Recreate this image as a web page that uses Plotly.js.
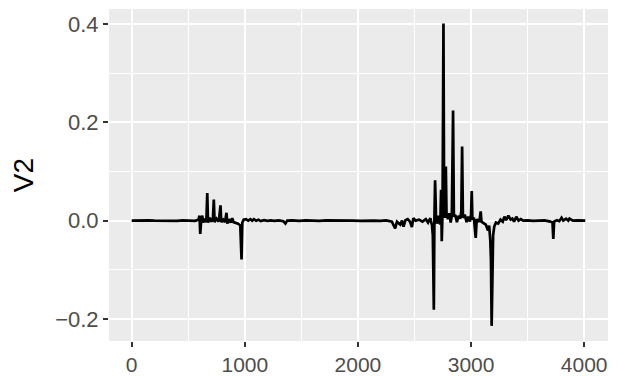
<!DOCTYPE html>
<html>
<head>
<meta charset="utf-8">
<script src="https://cdn.plot.ly/plotly-3.0.1.min.js"></script>
<style>html,body{margin:0;padding:0;background:#fff;}#chart{width:621px;height:376px;}</style>
</head>
<body>
<div id="chart"></div>
<script>
// Index (x) and V2 (y) values
const idx = [0,50,100,150,200,250,300,350,400,450,500,560,590,600,606,615,624,632,645,660,668,675,690,705,718,726,733,750,770,785,792,810,825,838,845,860,875,889,900,915,940,960,971,978,990,1010,1030,1050,1065,1080,1100,1120,1140,1170,1200,1230,1260,1300,1340,1359,1375,1420,1480,1540,1600,1660,1720,1780,1840,1900,1960,2020,2080,2140,2200,2250,2300,2329,2345,2374,2390,2403,2420,2440,2460,2477,2490,2510,2540,2570,2600,2620,2640,2655,2662,2671,2676,2682,2690,2700,2715,2728,2735,2741,2748,2756,2762,2770,2777,2783,2795,2808,2820,2830,2841,2848,2860,2875,2890,2905,2914,2921,2928,2945,2960,2975,2990,3000,3006,3012,3025,3041,3050,3065,3078,3085,3092,3110,3130,3150,3160,3170,3176,3182,3188,3195,3205,3220,3240,3260,3280,3295,3310,3330,3350,3365,3380,3400,3420,3440,3460,3500,3550,3600,3650,3700,3720,3727,3734,3760,3780,3800,3815,3840,3860,3870,3900,3950,4010];
const v2 = [0,0.0005,-0.0005,0.0005,0,-0.0005,0.0005,0,-0.0005,0.0005,0,-0.0005,0.002,0.010,-0.027,0.003,0.010,-0.004,0.004,-0.003,0.056,-0.004,0.006,-0.002,0.004,0.043,-0.003,0.004,-0.002,0.031,-0.003,0.002,-0.003,0.016,-0.006,0.003,-0.004,0.005,-0.003,-0.004,-0.006,-0.010,-0.079,-0.004,0.002,0.003,0,0.003,0,0.003,0,0.002,-0.001,0.001,-0.0005,0.0005,-0.0005,0.0005,-0.001,-0.006,0,0.0005,-0.0005,0.0005,0,-0.0005,0.0005,0,-0.0005,0.0005,0,-0.0005,0.0005,0,-0.0005,0.0005,-0.002,-0.016,-0.002,-0.008,0,-0.012,0.001,0.003,-0.002,-0.013,0.005,0,0.002,-0.002,0.003,-0.004,0.005,-0.010,-0.030,-0.181,0.004,0.082,0.010,-0.006,0.010,-0.008,0.063,-0.042,0.020,0.401,0.020,0.006,0.110,0.015,0.003,0.015,-0.004,0.010,0.224,0.008,0.012,-0.003,0.010,0.004,0.020,0.151,0.006,0.012,-0.003,0.008,-0.002,0.012,0.060,0.002,0.006,-0.035,0.003,-0.003,0.005,0.019,-0.002,-0.005,-0.008,-0.020,-0.010,-0.040,-0.080,-0.214,-0.060,-0.030,-0.012,-0.004,-0.006,0.002,-0.002,0.008,0.001,0.010,0.002,0.004,-0.002,0.008,0,0.003,0,0.0005,-0.0005,0,0.0005,-0.002,-0.004,-0.037,-0.002,0.001,-0.001,0.006,0,0.004,0,0.004,0,0.0005,0];
const xTicks = [0,1000,2000,3000,4000];
const yTicks = [-0.2,0.0,0.2,0.4];
const yTickText = ['\u22120.2','0.0','0.2','0.4'];

const trace = {
  x: idx, y: v2, type: 'scatter', mode: 'lines',
  line: {color: '#000000', width: 2.7},
  hoverinfo: 'skip'
};
const font = {family: '"Liberation Sans", Arial, sans-serif'};
const layout = {
  width: 621, height: 376,
  margin: {l: 109, r: 13, t: 9, b: 35},
  paper_bgcolor: '#FFFFFF', plot_bgcolor: '#EBEBEB',
  showlegend: false,
  font: {family: font.family, color: '#4D4D4D', size: 21},
  xaxis: {
    range: [-200.5, 4210.5], zeroline: false,
    tickvals: xTicks, ticktext: xTicks.map(String),
    showgrid: true, gridcolor: '#FFFFFF', gridwidth: 2,
    minor: {dtick: 500, tick0: 500, showgrid: true, gridcolor: '#FFFFFF', gridwidth: 1, ticks: ''},
    ticks: 'outside', ticklen: 5, tickwidth: 2, tickcolor: '#333333',
    tickfont: {family: font.family, size: 21, color: '#4D4D4D'},
    showline: false
  },
  yaxis: {
    range: [-0.2448, 0.4305], zeroline: false,
    tickvals: yTicks, ticktext: yTickText,
    showgrid: true, gridcolor: '#FFFFFF', gridwidth: 2,
    minor: {tickvals: [-0.1, 0.1, 0.3], showgrid: true, gridcolor: '#FFFFFF', gridwidth: 1, ticks: ''},
    ticks: 'outside', ticklen: 5, tickwidth: 2, tickcolor: '#333333',
    tickfont: {family: font.family, size: 22, color: '#4D4D4D'},
    title: {text: 'V2', font: {family: font.family, size: 28, color: '#000000'}, standoff: 13},
    showline: false
  }
};
Plotly.newPlot('chart', [trace], layout, {staticPlot: true, displayModeBar: false});
</script>
</body>
</html>
